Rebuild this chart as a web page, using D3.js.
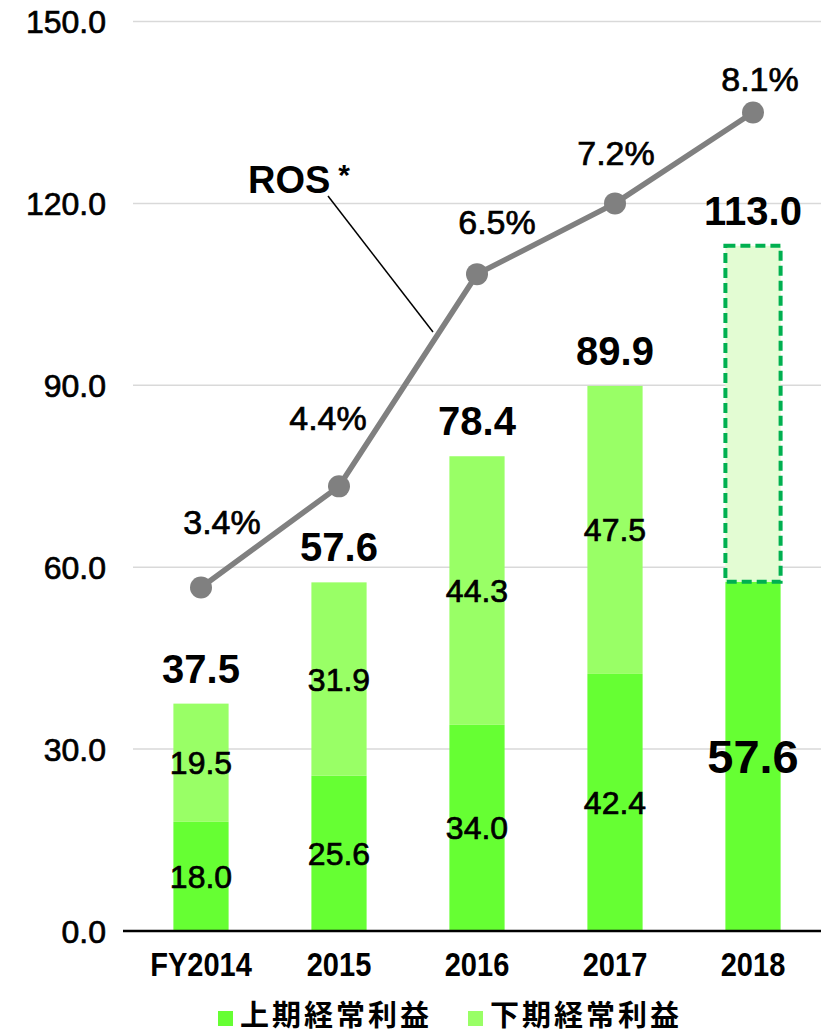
<!DOCTYPE html>
<html>
<head>
<meta charset="utf-8">
<script src="https://cdn.jsdelivr.net/npm/d3@7"></script>
<style>
  html, body { margin: 0; padding: 0; background: #fff; }
  svg { display: block; }
  text { font-family: "Liberation Sans", Arial, Helvetica, sans-serif; fill: #000; }
  .heavy { stroke: #000; stroke-width: 0.7px; }
  .jp { font-family: "Noto Sans CJK JP", "Noto Sans CJK SC", sans-serif; }
</style>
</head>
<body>
<svg id="chart" width="821" height="1035"></svg>
<script>
// Ordinary profit by fiscal year (first half / second half), with ROS on a secondary scale
const years = ["FY2014", "2015", "2016", "2017", "2018"];
const firstHalf = [18.0, 25.6, 34.0, 42.4, 57.6];
const secondHalf = [19.5, 31.9, 44.3, 47.5, 55.4];
const totals = [37.5, 57.6, 78.4, 89.9, 113.0];
const ros = [3.4, 4.4, 6.5, 7.2, 8.1];
const yTicks = [0, 30, 60, 90, 120, 150];
const legendLabels = ["上期経常利益", "下期経常利益"];
const forecastIndex = 4; // 2018 second half is a forecast

// hand-tuned nudges for the ROS percentage labels (dx, dy from the point)
const rosLabelNudge = [[21, -53], [-11, -56], [20, -40], [1, -38], [7, -21]];

const colors = { first: "#66ff33", second: "#99ff66", forecastFill: "#e3fcd3", forecastStroke: "#00b050", line: "#808080" };

const svg = d3.select("#chart");

const x = d3.scaleBand().domain(years).range([132, 822]).paddingInner(0.6).paddingOuter(0.3);
const y = d3.scaleLinear().domain([0, 150]).range([931, 21.5]);
const yRos = d3.scaleLinear().domain([0, 9]).range(y.range());

// gridlines
svg.append("g").selectAll("line").data(yTicks.filter(d => d > 0)).join("line")
  .attr("x1", 133).attr("x2", 821)
  .attr("y1", d => y(d)).attr("y2", d => y(d))
  .attr("stroke", "#d9d9d9").attr("stroke-width", 1.5);

// y-axis labels
svg.append("g").selectAll("text").data(yTicks).join("text")
  .attr("class", "heavy")
  .attr("x", 106).attr("y", d => y(d) + 11.5)
  .attr("text-anchor", "end")
  .style("font-size", "32px")
  .text(d => d3.format(".1f")(d));

// stacked bars
const bw = x.bandwidth();
const bars = svg.append("g");
bars.selectAll("rect.first").data(years).join("rect")
  .attr("class", "first")
  .attr("x", d => x(d)).attr("width", bw)
  .attr("y", (d, i) => y(firstHalf[i]))
  .attr("height", (d, i) => y(0) - y(firstHalf[i]))
  .attr("fill", colors.first);

bars.selectAll("rect.second").data(years).join("rect")
  .attr("class", "second")
  .attr("x", d => x(d)).attr("width", bw)
  .attr("y", (d, i) => y(firstHalf[i] + secondHalf[i]))
  .attr("height", (d, i) => y(firstHalf[i]) - y(firstHalf[i] + secondHalf[i]))
  .attr("fill", (d, i) => i === forecastIndex ? colors.forecastFill : colors.second)
  .attr("stroke", (d, i) => i === forecastIndex ? colors.forecastStroke : "none")
  .attr("stroke-width", 4)
  .attr("stroke-dasharray", "10 5");

// x axis line
svg.append("line")
  .attr("x1", 123).attr("x2", 821)
  .attr("y1", y(0)).attr("y2", y(0))
  .attr("stroke", "#000").attr("stroke-width", 2.5);

// x-axis labels (slightly condensed)
svg.append("g").selectAll("text").data(years).join("text")
  .attr("transform", d => `translate(${x(d) + bw / 2},976) scale(0.88,1)`)
  .attr("text-anchor", "middle")
  .style("font-size", "33px").style("font-weight", "bold")
  .text(d => d);

// segment labels
const fmt = d3.format(".1f");
svg.append("g").selectAll("text").data(years).join("text")
  .attr("class", (d, i) => i === forecastIndex ? null : "heavy")
  .attr("x", d => x(d) + bw / 2)
  .attr("y", (d, i) => y(firstHalf[i] / 2) + (i === forecastIndex ? 17 : 11.5))
  .attr("text-anchor", "middle")
  .style("font-size", (d, i) => i === forecastIndex ? "47px" : "32px")
  .style("font-weight", (d, i) => i === forecastIndex ? "bold" : "normal")
  .text((d, i) => fmt(firstHalf[i]));

svg.append("g").selectAll("text").data(years.filter((d, i) => i !== forecastIndex)).join("text")
  .attr("class", "heavy")
  .attr("x", d => x(d) + bw / 2)
  .attr("y", (d, i) => y(firstHalf[i] + secondHalf[i] / 2) + 11.5)
  .attr("text-anchor", "middle")
  .style("font-size", "32px")
  .text((d, i) => fmt(secondHalf[i]));

// totals above bars
svg.append("g").selectAll("text").data(years).join("text")
  .attr("x", d => x(d) + bw / 2)
  .attr("y", (d, i) => y(totals[i]) - 21)
  .attr("text-anchor", "middle")
  .style("font-size", "40px").style("font-weight", "bold")
  .text((d, i) => fmt(totals[i]));

// ROS line
const pts = years.map((d, i) => [x(d) + bw / 2, yRos(ros[i])]);
svg.append("path")
  .attr("d", d3.line()(pts))
  .attr("fill", "none").attr("stroke", colors.line).attr("stroke-width", 5.5);
svg.append("g").selectAll("circle").data(pts).join("circle")
  .attr("cx", d => d[0]).attr("cy", d => d[1]).attr("r", 11)
  .attr("fill", colors.line);

svg.append("g").selectAll("text").data(pts).join("text")
  .attr("class", "heavy")
  .attr("x", (d, i) => d[0] + rosLabelNudge[i][0])
  .attr("y", (d, i) => d[1] + rosLabelNudge[i][1])
  .attr("text-anchor", "middle")
  .style("font-size", "34px")
  .text((d, i) => ros[i].toFixed(1) + "%");

// ROS callout
svg.append("line")
  .attr("x1", 328).attr("y1", 196).attr("x2", 433).attr("y2", 332)
  .attr("stroke", "#000").attr("stroke-width", 1.5);
const rosLabel = svg.append("text")
  .attr("x", 248).attr("y", 193)
  .style("font-size", "38px").style("font-weight", "bold");
rosLabel.append("tspan").text("ROS");
rosLabel.append("tspan").attr("dx", 8).attr("dy", -8).style("font-size", "30px").text("*");

// legend
const legend = svg.append("g");
const legendX = [218, 468];
const legendColors = [colors.first, colors.second];
legendLabels.forEach((label, i) => {
  legend.append("rect")
    .attr("x", legendX[i]).attr("y", 1011).attr("width", 15).attr("height", 15)
    .attr("fill", legendColors[i]);
  legend.append("text")
    .attr("class", "jp")
    .attr("x", legendX[i] + 22).attr("y", 1026)
    .style("font-size", "29px").style("font-weight", "bold")
    .style("letter-spacing", "3px")
    .text(label);
});
</script>
</body>
</html>
